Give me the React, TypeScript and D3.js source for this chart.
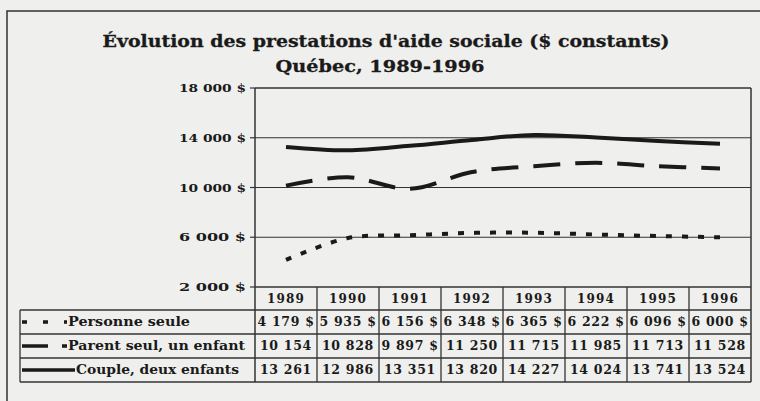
import React from "react";
import * as d3 from "d3";

const years = ["1989", "1990", "1991", "1992", "1993", "1994", "1995", "1996"];
const personneSeule = [4179, 5935, 6156, 6348, 6365, 6222, 6096, 6000];
const parentSeul = [10154, 10828, 9897, 11250, 11715, 11985, 11713, 11528];
const couple = [13261, 12986, 13351, 13820, 14227, 14024, 13741, 13524];
const personneSeuleLabels = ["4 179 $", "5 935 $", "6 156 $", "6 348 $", "6 365 $", "6 222 $", "6 096 $", "6 000 $"];
const parentSeulLabels = ["10 154", "10 828", "9 897 $", "11 250", "11 715", "11 985", "11 713", "11 528"];
const coupleLabels = ["13 261", "12 986", "13 351", "13 820", "14 227", "14 024", "13 741", "13 524"];
const seriesNames = ["Personne seule", "Parent seul, un enfant", "Couple, deux enfants"];
const yTicks = [2000, 6000, 10000, 14000, 18000];
const title = "Évolution des prestations d'aide sociale ($ constants)";
const subtitle = "Québec, 1989-1996";

const W = 760;
const H = 401;
const FONT = "'DejaVu Serif', serif";
const INK = "#1a1a1a";

export default function App() {
  const plotL = 255, plotR = 751, plotT = 88, plotB = 287;
  const x = d3.scaleBand<string>().domain(years).range([plotL, plotR]).padding(0);
  const y = d3.scaleLinear().domain([2000, 18000]).range([plotB, plotT]);
  const cx = (yr: string) => (x(yr) as number) + x.bandwidth() / 2;

  const series = [
    { name: seriesNames[0], values: personneSeule, labels: personneSeuleLabels, dash: "6,10", legendDash: "5,16", legendEnd: 67, textLen: 122 },
    { name: seriesNames[1], values: parentSeul, labels: parentSeulLabels, dash: "27,15", legendDash: "26,14", legendEnd: 67, textLen: 177 },
    { name: seriesNames[2], values: couple, labels: coupleLabels, dash: "none", legendDash: "none", legendEnd: 75, textLen: 163 },
  ];

  const line = d3
    .line<number>()
    .x((_, i) => cx(years[i]))
    .y((v) => y(v))
    .curve(d3.curveCatmullRom.alpha(0.5));

  const headerTop = plotB;
  const rowH = 24;
  const headerB = headerTop + 23;
  const rowTops = series.map((_, i) => headerB + i * rowH);
  const tableB = headerB + series.length * rowH;
  const legendL = 20;

  return (
    <svg width={W} height={H} style={{ position: "absolute", left: 0, top: 0, display: "block" }} fontFamily={FONT}>
      <rect x={0} y={0} width={W} height={H} fill="#efefed" />
      {/* outer frame */}
      <rect x={7} y={11} width={W + 20} height={H + 20} fill="none" stroke="#333" strokeWidth={1.5} />

      {/* titles */}
      <text x={386} y={47} textAnchor="middle" fontSize={17} fontWeight="bold" fill={INK} textLength={567} lengthAdjust="spacingAndGlyphs" stroke={INK} strokeWidth={0.3}>
        {title}
      </text>
      <text x={380} y={72} textAnchor="middle" fontSize={17} fontWeight="bold" fill={INK} textLength={209} lengthAdjust="spacingAndGlyphs" stroke={INK} strokeWidth={0.3}>
        {subtitle}
      </text>

      {/* gridlines */}
      {yTicks.slice(1, -1).map((t) => (
        <line key={"g" + t} x1={plotL} x2={plotR} y1={y(t)} y2={y(t)} stroke="#333" strokeWidth={1.1} />
      ))}
      {/* plot frame */}
      <line x1={plotL} x2={plotR} y1={plotT} y2={plotT} stroke="#333" strokeWidth={1.5} />
      <line x1={plotR} x2={plotR} y1={plotT} y2={tableB} stroke="#333" strokeWidth={1.5} />
      <line x1={plotL} x2={plotL} y1={plotT} y2={tableB} stroke="#333" strokeWidth={1.5} />
      <line x1={plotL} x2={plotR} y1={plotB} y2={plotB} stroke="#333" strokeWidth={1.5} />

      {/* y ticks */}
      {yTicks.map((t) => (
        <g key={"t" + t}>
          <line x1={plotL - 5} x2={plotL} y1={y(t)} y2={y(t)} stroke="#333" strokeWidth={1.2} />
          <text x={246} y={y(t)} dy="0.35em" textAnchor="end" fontSize={11.5} fontWeight="bold" fill={INK} textLength={67} lengthAdjust="spacingAndGlyphs">
            {d3.format(",")(t).replace(/,/g, " ") + " $"}
          </text>
        </g>
      ))}

      {/* lines */}
      {series.map((s) => (
        <path
          key={"l" + s.name}
          d={line(s.values) || ""}
          fill="none"
          stroke={INK}
          strokeWidth={4}
          strokeDasharray={s.dash}
          strokeLinecap="butt"
          strokeLinejoin="round"
        />
      ))}

      {/* table */}
      {[headerB, ...rowTops.slice(1), tableB].map((yy, i) => (
        <line key={"h" + i} x1={legendL} x2={plotR} y1={yy} y2={yy} stroke="#333" strokeWidth={1.3} />
      ))}
      <line x1={legendL} x2={legendL} y1={headerB} y2={tableB} stroke="#333" strokeWidth={1.3} />
      {years.slice(1).map((yr) => (
        <line key={"v" + yr} x1={x(yr) as number} x2={x(yr) as number} y1={headerTop} y2={tableB} stroke="#333" strokeWidth={1.3} />
      ))}
      {years.map((yr) => (
        <text key={"y" + yr} x={cx(yr)} y={headerTop + 12} dy="0.35em" textAnchor="middle" fontSize={12} fontWeight="bold" fill={INK} letterSpacing={1.2}>
          {yr}
        </text>
      ))}
      {series.map((s, si) => (
        <g key={"r" + s.name}>
          <line
            x1={22}
            x2={s.legendEnd}
            y1={rowTops[si] + 12}
            y2={rowTops[si] + 12}
            stroke={INK}
            strokeWidth={3.5}
            strokeDasharray={s.legendDash}
          />
          <text x={s.legendEnd + 1} y={rowTops[si] + 12} dy="0.35em" fontSize={12} fontWeight="bold" fill={INK} textLength={s.textLen} lengthAdjust="spacingAndGlyphs">
            {s.name}
          </text>
          {s.labels.map((lab, i) => (
            <text key={lab + i} x={cx(years[i])} y={rowTops[si] + 12} dy="0.35em" textAnchor="middle" fontSize={12.5} fontWeight="bold" fill={INK} letterSpacing={0.7}>
              {lab}
            </text>
          ))}
        </g>
      ))}
    </svg>
  );
}
